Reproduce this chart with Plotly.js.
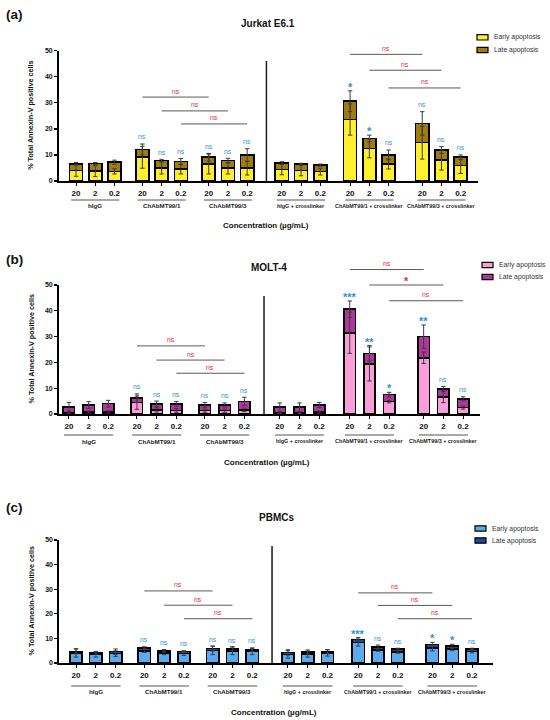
<!DOCTYPE html>
<html><head><meta charset="utf-8">
<script src="https://cdn.plot.ly/plotly-3.0.1.min.js"></script>
<style>html,body{margin:0;padding:0;background:#fff}#chart{width:550px;height:720px}</style>
</head><body><div id="chart"></div>
<script>
// ---------------- DATA ----------------
const doses = ['20', '2', '0.2'];
const groups = ['hIgG', 'ChAbMT99/1', 'ChAbMT99/3', 'hIgG + crosslinker', 'ChAbMT99/1 + crosslinker', 'ChAbMT99/3 + crosslinker'];
const seriesNames = ['Early apoptosis', 'Late apoptosis'];

// (a) Jurkat E6.1
const jurkatEarly    = [4.0, 3.8, 3.7, 9.1, 5.1, 4.5, 6.5, 4.9, 4.9, 4.4, 4.0, 3.6, 23.6, 12.5, 6.5, 14.7, 8.0, 5.9];
const jurkatLate     = [2.6, 2.9, 3.5, 3.0, 2.7, 3.0, 2.6, 2.9, 5.1, 2.5, 2.5, 2.5, 7.0, 3.8, 3.5, 7.4, 3.9, 3.2];
const jurkatEarlyErr = [2.2, 2.1, 1.0, 4.2, 2.4, 1.8, 3.8, 2.2, 2.6, 2.0, 2.0, 1.3, 6.0, 3.6, 1.9, 6.3, 3.8, 3.0];
const jurkatTotalErr = [0.5, 0.4, 0.8, 2.1, 0.5, 1.1, 1.5, 0.9, 2.4, 0.5, 0.3, 0.4, 4.0, 1.3, 1.9, 4.5, 1.3, 0.9];
const jurkatSig      = ['', '', '', 'ns', 'ns', 'ns', 'ns', 'ns', 'ns', '', '', '', '*', '*', 'ns', 'ns', 'ns', 'ns'];
const jurkatCmpLevel = [32.2, 26.9, 21.9, 48.6, 42.5, 35.7];
const jurkatCmpSig   = ['ns', 'ns', 'ns', 'ns', 'ns', 'ns'];

// (b) MOLT-4
const moltEarly    = [0.5, 0.7, 0.8, 4.4, 1.6, 1.4, 1.3, 1.3, 1.6, 0.5, 0.5, 0.7, 31.5, 19.4, 4.8, 21.8, 6.7, 2.5];
const moltLate     = [2.3, 2.8, 3.2, 1.7, 2.3, 2.5, 2.2, 2.2, 3.3, 2.1, 2.1, 2.8, 9.1, 4.1, 2.7, 8.2, 3.0, 3.4];
const moltEarlyErr = [0.3, 0.4, 0.4, 2.6, 0.8, 0.7, 0.6, 0.6, 0.7, 0.3, 0.3, 0.4, 8.0, 6.6, 0.5, 2.2, 2.3, 0.6];
const moltTotalErr = [1.7, 1.3, 1.3, 1.7, 1.1, 0.9, 1.0, 0.8, 1.6, 1.7, 1.7, 1.0, 3.2, 3.0, 0.9, 4.5, 1.0, 0.8];
const moltSig      = ['', '', '', 'ns', 'ns', 'ns', 'ns', 'ns', 'ns', '', '', '', '***', '**', '*', '**', 'ns', 'ns'];
const moltCmpLevel = [26.4, 20.9, 15.8, 56.0, 50.0, 43.9];
const moltCmpSig   = ['ns', 'ns', 'ns', 'ns', '*', 'ns'];

// (c) PBMCs
const pbmcEarly    = [4.1, 3.4, 3.8, 5.0, 4.1, 3.9, 5.1, 5.0, 4.7, 3.5, 3.6, 4.1, 8.3, 5.3, 4.5, 6.1, 5.6, 4.6];
const pbmcLate     = [0.6, 0.7, 0.8, 1.1, 0.9, 0.7, 0.8, 0.7, 0.7, 0.8, 0.9, 0.6, 1.3, 1.2, 1.1, 1.5, 1.2, 1.1];
const pbmcEarlyErr = [1.7, 1.0, 1.1, 0.7, 0.7, 0.8, 1.7, 1.6, 1.3, 1.5, 1.2, 1.3, 1.4, 0.5, 0.5, 1.2, 0.6, 0.5];
const pbmcTotalErr = [1.0, 0.6, 1.1, 0.5, 0.5, 0.4, 1.0, 0.8, 0.7, 1.1, 0.8, 0.7, 0.7, 0.8, 0.4, 0.8, 0.8, 0.3];
const pbmcSig      = ['', '', '', 'ns', 'ns', 'ns', 'ns', 'ns', 'ns', '', '', '', '***', 'ns', 'ns', '*', '*', 'ns'];
const pbmcCmpLevel = [29.3, 23.5, 18.0, 28.5, 23.4, 18.0];
const pbmcCmpSig   = ['ns', 'ns', 'ns', 'ns', 'ns', 'ns'];

// ---------------- LAYOUT HELPERS ----------------
const W = 550, H = 720;
const FONT = 'Liberation Sans, Arial, sans-serif';
const groupStart = [0, 3.45, 6.9, 10.7, 14.25, 18];
const xPos = [];
groupStart.forEach(g => { for (let d = 0; d < doses.length; d++) xPos.push(g + d); });
const tickText = xPos.map((_, i) => doses[i % doses.length]);
const sepX = 9.9;
const px = v => v / W;
const py = v => 1 - v / H;

const panels = [
  { title: 'Jurkat E6.1', tag: '(a)', early: jurkatEarly, late: jurkatLate, eErr: jurkatEarlyErr, tErr: jurkatTotalErr,
    sig: jurkatSig, cmpLevel: jurkatCmpLevel, cmpSig: jurkatCmpSig, colors: ['#FFF02E', '#9F7C10'],
    box: { l: 58.7, r: 478, t: 50.7, b: 181 }, xr: [-0.9, 20.9], bw: 0.68, sepTop: 46,
    gLineY: 200, gLabY: 205.5, xTitleY: 225, titleY: 24, tagY: 14, legX: 477, legY: [37.3, 50] },
  { title: 'MOLT-4', tag: '(b)', early: moltEarly, late: moltLate, eErr: moltEarlyErr, tErr: moltTotalErr,
    sig: moltSig, cmpLevel: moltCmpLevel, cmpSig: moltCmpSig, colors: ['#FA9EDA', '#B0369E'],
    box: { l: 58.7, r: 480, t: 285, b: 414 }, xr: [-0.52, 20.86], bw: 0.58, sepTop: 45.7,
    gLineY: 435, gLabY: 441, xTitleY: 462, titleY: 267, tagY: 259, legX: 482, legY: [265, 277] },
  { title: 'PBMCs', tag: '(c)', early: pbmcEarly, late: pbmcLate, eErr: pbmcEarlyErr, tErr: pbmcTotalErr,
    sig: pbmcSig, cmpLevel: pbmcCmpLevel, cmpSig: pbmcCmpSig, colors: ['#5AAAF0', '#1C4A9C'],
    box: { l: 59, r: 493, t: 540, b: 663 }, xr: [-0.86, 21.06], bw: 0.62, sepTop: 47.6,
    gLineY: 686, gLabY: 691.5, xTitleY: 712, titleY: 517, tagY: 507, legX: 475, legY: [528.5, 540.5] }
];

const data = [];
const shapes = [];
const annotations = [];
const layout = {
  width: W, height: H, margin: { l: 0, r: 0, t: 0, b: 0 },
  paper_bgcolor: '#fff', plot_bgcolor: 'rgba(0,0,0,0)',
  barmode: 'stack', showlegend: false,
  font: { family: FONT, color: '#111' }
};

panels.forEach((p, k) => {
  const sfx = k === 0 ? '' : String(k + 1);
  const xa = 'x' + sfx, ya = 'y' + sfx;
  const total = p.early.map((v, i) => v + p.late[i]);
  const yd0 = py(p.box.b), yd1 = py(p.box.t);
  const yPaper = v => yd0 + v / 50 * (yd1 - yd0);

  [p.early, p.late].forEach((vals, s) => {
    data.push({
      type: 'bar', name: seriesNames[s], x: xPos, y: vals, xaxis: xa, yaxis: ya,
      width: p.bw, marker: { color: p.colors[s], line: { color: '#000', width: 1.6 } },
      hoverinfo: 'skip'
    });
  });
  [[p.early, p.eErr], [total, p.tErr]].forEach(([yy, ee]) => {
    data.push({
      type: 'scatter', mode: 'markers', x: xPos, y: yy, xaxis: xa, yaxis: ya,
      marker: { size: 1, opacity: 0 }, hoverinfo: 'skip', cliponaxis: false,
      error_y: { type: 'data', array: ee, visible: true, color: '#3c3c3c', thickness: 1, width: 2.2 }
    });
  });

  layout['xaxis' + sfx] = {
    domain: [px(p.box.l), px(p.box.r)], range: p.xr, anchor: ya,
    tickmode: 'array', tickvals: xPos, ticktext: tickText,
    ticks: 'outside', ticklen: 3, tickwidth: 1, tickcolor: '#000',
    showline: true, linewidth: 2, linecolor: '#000', showgrid: false, zeroline: false,
    tickfont: { family: FONT, size: 8, weight: 'bold', color: '#111' }, fixedrange: true
  };
  layout['yaxis' + sfx] = {
    domain: [yd0, yd1], range: [0, 50], anchor: xa,
    tickmode: 'array', tickvals: [0, 10, 20, 30, 40, 50],
    ticks: 'outside', ticklen: 3, tickwidth: 1.3, tickcolor: '#000',
    showline: true, linewidth: 1.6, linecolor: '#000', showgrid: false, zeroline: false,
    tickfont: { family: FONT, size: 7, weight: 'bold', color: '#111' }, fixedrange: true
  };

  // separator line between plain and crosslinker sets
  shapes.push({ type: 'line', xref: xa, yref: ya, x0: sepX, x1: sepX, y0: 0, y1: p.sepTop,
    line: { color: '#1a1a1a', width: 1.5 } });

  // group underlines and labels
  groups.forEach((g, gi) => {
    const a = xPos[gi * 3], b = xPos[gi * 3 + 2];
    shapes.push({ type: 'line', xref: xa, yref: 'paper', x0: a - 0.25, x1: b + 0.25,
      y0: py(p.gLineY), y1: py(p.gLineY), line: { color: '#555', width: 1 } });
    annotations.push({ xref: xa, yref: 'paper', x: xPos[gi * 3 + 1], y: py(p.gLabY), text: g,
      showarrow: false, xanchor: 'center', yanchor: 'middle',
      font: { family: FONT, size: gi < 3 ? 6.2 : 5.4, weight: 'bold', color: '#222' } });
  });

  // significance vs control above bars
  p.sig.forEach((s, i) => {
    if (!s) return;
    const star = s.indexOf('*') >= 0;
    annotations.push({ xref: xa, yref: ya, x: xPos[i], y: total[i] + p.tErr[i], text: s,
      showarrow: false, xanchor: 'center', yanchor: 'middle', yshift: star ? 4 : 7,
      font: { family: FONT, size: star ? 11 : 6.8, weight: star ? 'bold' : 'normal', color: '#2D8FDB' } });
  });

  // comparison brackets
  p.cmpLevel.forEach((h, c) => {
    const d = c % 3;
    const i0 = (c < 3 ? 3 : 12) + d, i1 = (c < 3 ? 6 : 15) + d;
    shapes.push({ type: 'line', xref: xa, yref: 'paper', x0: xPos[i0], x1: xPos[i1],
      y0: yPaper(h), y1: yPaper(h), line: { color: '#5a5a5a', width: 1 } });
    const star = p.cmpSig[c].indexOf('*') >= 0;
    annotations.push({ xref: xa, yref: 'paper', x: (xPos[i0] + xPos[i1]) / 2, y: yPaper(h), text: p.cmpSig[c],
      showarrow: false, xanchor: 'center', yanchor: 'middle', yshift: star ? 4 : 6,
      font: { family: FONT, size: star ? 11 : 6.8, weight: star ? 'bold' : 'normal', color: '#F0282D' } });
  });

  // axis titles
  annotations.push({ xref: 'paper', yref: 'paper', x: px((p.box.l + p.box.r) / 2 - 2), y: py(p.xTitleY),
    text: 'Concentration (µg/mL)', showarrow: false, xanchor: 'center', yanchor: 'middle',
    font: { family: FONT, size: 8, weight: 'bold', color: '#111' } });
  annotations.push({ xref: 'paper', yref: 'paper', x: px(31), y: (yd0 + yd1) / 2,
    text: '% Total Annexin-V positive cells', textangle: -90, showarrow: false,
    xanchor: 'center', yanchor: 'middle',
    font: { family: FONT, size: 7.2, weight: 'bold', color: '#111' } });
  // panel title & tag
  annotations.push({ xref: 'paper', yref: 'paper', x: px((p.box.l + p.box.r) / 2), y: py(p.titleY),
    text: p.title, showarrow: false, xanchor: 'center', yanchor: 'middle',
    font: { family: FONT, size: 10, weight: 'bold', color: '#111' } });
  annotations.push({ xref: 'paper', yref: 'paper', x: px(4), y: py(p.tagY),
    text: p.tag, showarrow: false, xanchor: 'left', yanchor: 'middle',
    font: { family: FONT, size: 13.5, weight: 'bold', color: '#111' } });

  // legend
  seriesNames.forEach((n, s) => {
    const cy = p.legY[s];
    shapes.push({ type: 'rect', xref: 'paper', yref: 'paper', x0: px(p.legX), x1: px(p.legX + 11),
      y0: py(cy + 2.7), y1: py(cy - 2.7), fillcolor: p.colors[s], line: { color: '#000', width: 1.2 } });
    annotations.push({ xref: 'paper', yref: 'paper', x: px(p.legX + 15), y: py(cy), text: n,
      showarrow: false, xanchor: 'left', yanchor: 'middle',
      font: { family: FONT, size: 6.8, color: '#333' } });
  });
});

layout.shapes = shapes;
layout.annotations = annotations;
Plotly.newPlot('chart', data, layout, { displayModeBar: false, staticPlot: true });
</script>
</body></html>
